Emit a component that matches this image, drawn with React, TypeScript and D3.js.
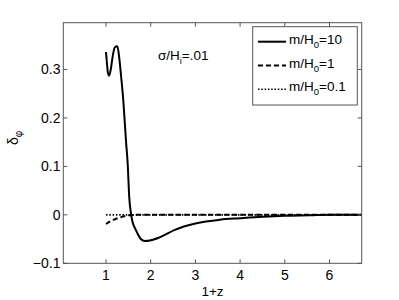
import * as React from 'react'
import * as d3 from 'd3'

// 1+z values and delta_phi for each mass
const xSolid = [1.0, 1.022, 1.045, 1.067, 1.09, 1.11, 1.135, 1.157, 1.2, 1.253, 1.29, 1.336, 1.387, 1.425, 1.447, 1.485, 1.521, 1.56, 1.6, 1.65, 1.72, 1.78, 1.87, 1.98, 2.21, 2.54, 3.0, 3.55, 4.0, 4.5, 5.0, 5.56, 6.0, 6.72]
const ySolid = [0.336, 0.312, 0.292, 0.287, 0.292, 0.302, 0.318, 0.331, 0.346, 0.348, 0.329, 0.288, 0.236, 0.184, 0.153, 0.106, 0.035, 0.002, -0.017, -0.028, -0.041, -0.05, -0.054, -0.053, -0.046, -0.031, -0.018, -0.01, -0.007, -0.004, -0.002, -0.001, 0, 0]
const xDashed = [1.0, 1.1, 1.2, 1.3, 1.4, 1.5, 1.7, 2.0, 3.0, 4.0, 5.0, 6.0, 6.72]
const yDashed = [-0.019, -0.013, -0.009, -0.006, -0.003, -0.001, 0, 0, 0, 0, 0, 0, 0]
const xDotted = [1.0, 2.0, 3.0, 4.0, 5.0, 6.0, 6.72]
const yDotted = [0, 0, 0, 0, 0, 0, 0]

const xTicks = [1, 2, 3, 4, 5, 6]
const yTicks = [-0.1, 0, 0.1, 0.2, 0.3]
const labels = ['10', '1', '0.1']

const W = 399
const H = 300
const m = { left: 63.3, right: 361.7, top: 22.7, bottom: 263.3 }
const font = 'Liberation Sans, Arial, sans-serif'

const App = () => {
  const x = d3.scaleLinear().domain([0.045, 6.72]).range([m.left, m.right])
  const y = d3.scaleLinear().domain([-0.1, 0.3965]).range([m.bottom, m.top])
  const line = d3.line<[number, number]>()
    .x(d => x(d[0])).y(d => y(d[1]))
    .curve(d3.curveMonotoneX)

  const series = [
    { xs: xSolid, ys: ySolid, dash: undefined, w: 2 },
    { xs: xDashed, ys: yDashed, dash: '5 3', w: 2 },
    { xs: xDotted, ys: yDotted, dash: '1.5 1.8', w: 1.6 },
  ]

  const fmt = (v: number) => v === 0 ? '0' : (v < 0 ? '\u22120.1' : v.toFixed(1))

  return (
    <svg width={W} height={H} style={{ position: 'absolute', left: 0, top: 0 }} fontFamily={font}>
      <rect width={W} height={H} fill="#fff" />
      {series.map((s, i) => (
        <path key={i} d={line(s.xs.map((v, j) => [v, s.ys[j]] as [number, number])) || ''}
          fill="none" stroke="#000" strokeWidth={s.w} strokeDasharray={s.dash} />
      ))}
      <rect x={m.left} y={m.top} width={m.right - m.left} height={m.bottom - m.top}
        fill="none" stroke="#555" strokeWidth={1} />
      {xTicks.map(t => (
        <g key={t}>
          <line x1={x(t)} x2={x(t)} y1={m.bottom} y2={m.bottom - 4} stroke="#555" />
          <line x1={x(t)} x2={x(t)} y1={m.top} y2={m.top + 4} stroke="#555" />
          <text x={x(t)} y={280} textAnchor="middle" fontSize={14}>{t}</text>
        </g>
      ))}
      {yTicks.map(t => (
        <g key={t}>
          <line x1={m.left} x2={m.left + 4} y1={y(t)} y2={y(t)} stroke="#555" />
          <line x1={m.right} x2={m.right - 4} y1={y(t)} y2={y(t)} stroke="#555" />
          <text x={60.5} y={y(t) + 5} textAnchor="end" fontSize={14}>{fmt(t)}</text>
        </g>
      ))}
      <text x={212.5} y={296} textAnchor="middle" fontSize={13.5}>1+z</text>
      <text transform="translate(18,145) rotate(-90)" fontSize={14}>
        δ<tspan dy={4} fontSize={10}>φ</tspan>
      </text>
      <text x={158} y={60} fontSize={13.5}>
        σ/H<tspan dy={4} fontSize={9}>i</tspan><tspan dy={-4}>=.01</tspan>
      </text>
      <rect x={252.7} y={26.7} width={104.6} height={78.3} fill="#fff" stroke="#555" />
      {labels.map((l, i) => {
        const ly = 41.7 + i * 23.8
        const s = series[i]
        return (
          <g key={l}>
            <line x1={258} x2={286} y1={ly} y2={ly} stroke="#000" strokeWidth={s.w} strokeDasharray={s.dash} />
            <text x={289} y={ly + 2} fontSize={13.5}>
              m/H<tspan dy={4} fontSize={9.5}>0</tspan><tspan dy={-4}>={l}</tspan>
            </text>
          </g>
        )
      })}
    </svg>
  )
}

export default App
